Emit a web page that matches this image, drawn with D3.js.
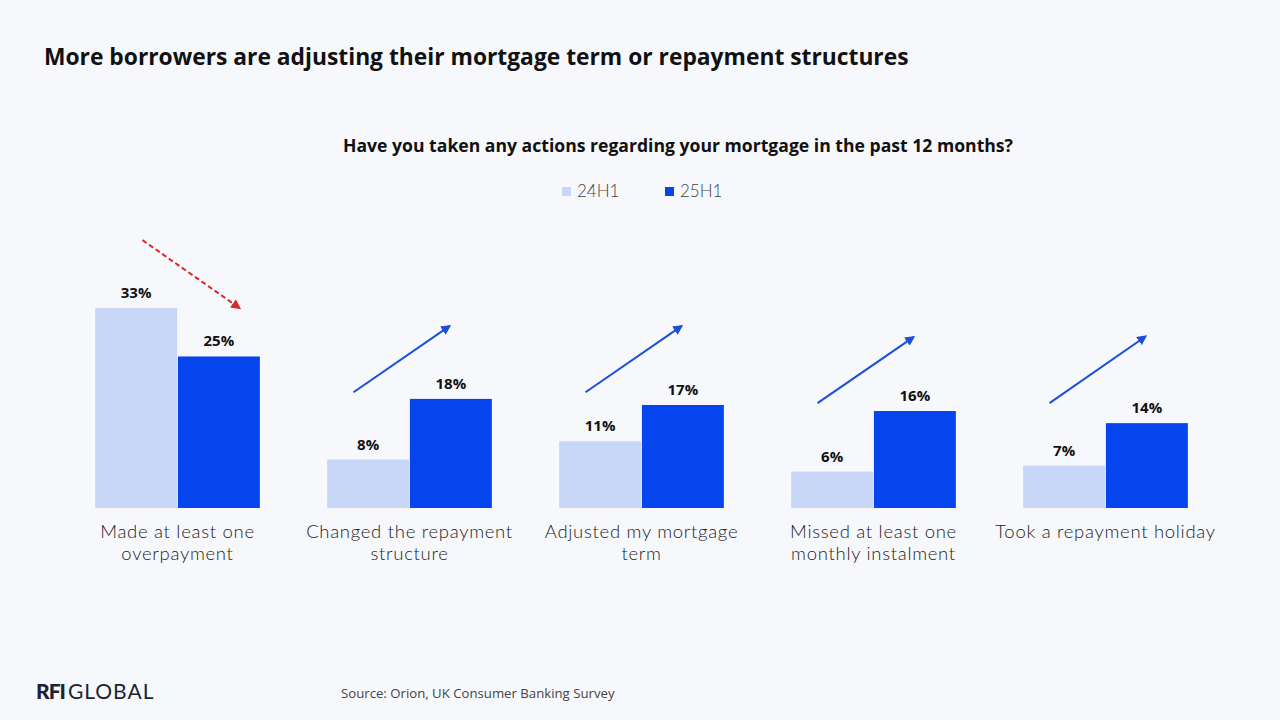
<!DOCTYPE html>
<html>
<head>
<meta charset="utf-8">
<script src="https://cdn.jsdelivr.net/npm/d3@7"></script>
<style>
  body { margin: 0; background: #f7f8fc; }
</style>
</head>
<body>
<div id="container"></div>
<script>
let w = 1280;
let h = 720;

// DATA
let categories = [
  ["Made at least one", "overpayment"],
  ["Changed the repayment", "structure"],
  ["Adjusted my mortgage", "term"],
  ["Missed at least one", "monthly instalment"],
  ["Took a repayment holiday"]
];
let seriesNames = ["24H1", "25H1"];
let values24 = [33, 8, 11, 6, 7];
let values25 = [25, 18, 17, 16, 14];
// trend arrows: [from %, to %] in value units, down = red dashed
let arrowFrom = [44.2, 19.1, 19.1, 17.3, 17.3];
let arrowTo = [33.0, 30.0, 30.0, 28.2, 28.3];

let colors = ["#c8d7f8", "#0644ee"];

let viz = d3.select("#container").append("svg")
  .attr("width", w)
  .attr("height", h)
  .attr("font-family", "Lato, sans-serif")
  .style("background-color", "#f7f8fc");

let defs = viz.append("defs");
function marker(id, col) {
  defs.append("marker")
    .attr("id", id)
    .attr("viewBox", "0 0 10 10")
    .attr("refX", 8).attr("refY", 5)
    .attr("markerWidth", 5).attr("markerHeight", 5)
    .attr("orient", "auto")
    .append("path")
    .attr("d", "M0,0 L10,5 L0,10 z")
    .attr("fill", col);
}
marker("arrBlue", "#1a4fd6");
marker("arrRed", "#d42a2a");

// SCALES
let xScale = d3.scaleBand()
  .domain(d3.range(categories.length))
  .range([61.5, 1221.5])
  .paddingInner(0.29)
  .paddingOuter(0.145);
let xInner = d3.scaleBand()
  .domain([0, 1])
  .range([0, xScale.bandwidth()])
  .paddingInner(0.01);
let yScale = d3.scaleLinear().domain([0, 33]).range([508, 308]);

// TITLES
viz.append("text")
  .attr("x", 44).attr("y", 65)
  .attr("font-family", "Open Sans")
  .attr("font-size", 22.8).attr("font-weight", 700)
  .attr("fill", "#111")
  .text("More borrowers are adjusting their mortgage term or repayment structures");

viz.append("text")
  .attr("x", 678).attr("y", 152)
  .attr("text-anchor", "middle")
  .attr("font-family", "Open Sans")
  .attr("font-size", 17.6).attr("font-weight", 700)
  .attr("fill", "#111")
  .text("Have you taken any actions regarding your mortgage in the past 12 months?");

// LEGEND
let legend = viz.selectAll(".legend").data(seriesNames).enter()
  .append("g")
  .attr("class", "legend")
  .attr("transform", function(d, i) { return "translate(" + (562 + i * 103) + ",186)"; });
legend.append("rect")
  .attr("width", 9).attr("height", 9)
  .attr("y", 1)
  .attr("fill", function(d, i) { return colors[i]; });
legend.append("text")
  .attr("x", 15).attr("y", 11)
  .attr("font-size", 17).attr("font-weight", 300)
  .attr("fill", "#444")
  .text(function(d) { return d; });

// BARS
let groups = viz.selectAll(".group").data(categories).enter()
  .append("g")
  .attr("class", "group")
  .attr("transform", function(d, i) { return "translate(" + xScale(i) + ",0)"; });

groups.each(function(d, i) {
  let g = d3.select(this);
  let vals = [values24[i], values25[i]];
  g.selectAll("rect").data(vals).enter()
    .append("rect")
    .attr("x", function(v, j) { return xInner(j); })
    .attr("y", function(v) { return yScale(v); })
    .attr("width", xInner.bandwidth())
    .attr("height", function(v) { return yScale(0) - yScale(v); })
    .attr("fill", function(v, j) { return colors[j]; });

  g.selectAll(".val").data(vals).enter()
    .append("text")
    .attr("class", "val")
    .attr("x", function(v, j) { return xInner(j) + xInner.bandwidth() / 2; })
    .attr("y", function(v) { return yScale(v) - 10; })
    .attr("text-anchor", "middle")
    .attr("font-family", "Open Sans")
    .attr("font-size", 15).attr("font-weight", 700)
    .attr("fill", "#111")
    .text(function(v) { return v + "%"; });

  g.append("text")
    .attr("x", xScale.bandwidth() / 2)
    .attr("y", 538)
    .attr("text-anchor", "middle")
    .attr("font-size", 18.5).attr("font-weight", 300)
    .attr("letter-spacing", 0.7)
    .attr("fill", "#222")
    .selectAll("tspan").data(d).enter()
    .append("tspan")
    .attr("x", xScale.bandwidth() / 2)
    .attr("dy", function(t, k) { return k == 0 ? 0 : 22; })
    .text(function(t) { return t; });

  // trend arrow
  let down = values25[i] < values24[i];
  let cx = xScale.bandwidth() / 2;
  g.append("line")
    .attr("x1", down ? cx - 35 : cx - 56).attr("y1", yScale(arrowFrom[i]))
    .attr("x2", down ? cx + 62 : cx + 40).attr("y2", yScale(arrowTo[i]))
    .attr("stroke", down ? "#d42a2a" : "#1a4fd6")
    .attr("stroke-width", 2)
    .attr("stroke-dasharray", down ? "5,3" : null)
    .attr("marker-end", down ? "url(#arrRed)" : "url(#arrBlue)");
});

// FOOTER
let logo = viz.append("text")
  .attr("x", 36).attr("y", 699)
  .attr("font-size", 21)
  .attr("fill", "#1c2433");
logo.append("tspan").attr("font-weight", 900).attr("letter-spacing", -1).text("RFI");
logo.append("tspan").attr("font-weight", 400).attr("dx", 3).attr("letter-spacing", 1).text("GLOBAL");

viz.append("text")
  .attr("x", 341).attr("y", 698)
  .attr("font-family", "Open Sans")
  .attr("font-size", 13.2)
  .attr("fill", "#444")
  .text("Source: Orion, UK Consumer Banking Survey");
</script>
</body>
</html>
